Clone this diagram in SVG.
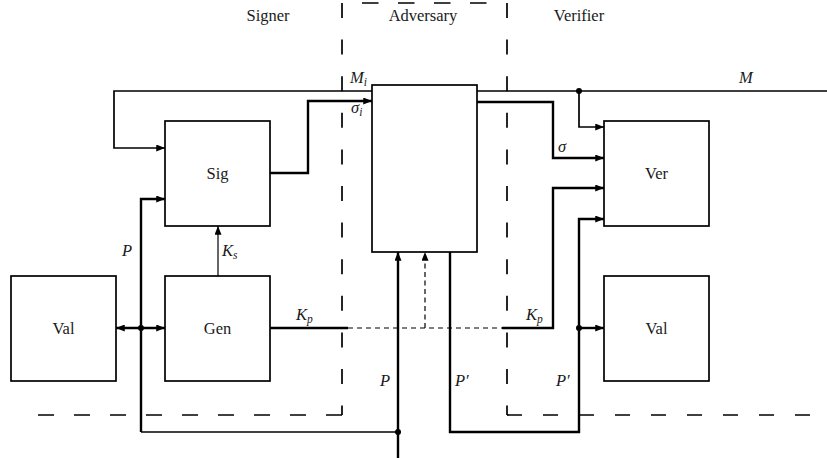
<svg xmlns="http://www.w3.org/2000/svg" width="827" height="458" viewBox="0 0 827 458">
<style>
.box{fill:#fff;stroke:#000;stroke-width:1.7}
.t{font-family:"Liberation Serif","DejaVu Serif",serif;font-size:16.5px;fill:#1a1a1a}
.m{font-family:"Liberation Serif","DejaVu Serif",serif;font-size:16.5px;font-style:italic;fill:#1a1a1a}
.sub{font-size:11.5px}
.w{fill:none;stroke:#000;stroke-width:1.7}
.k{fill:none;stroke:#000;stroke-width:2.4}
.thin{fill:none;stroke:#000;stroke-width:1.2}
.bd{fill:none;stroke:#000;stroke-width:1.7}
.dot{fill:#000}
</style>
<defs>
<marker id="ah" viewBox="0 0 10 8" refX="10" refY="4" markerWidth="9" markerHeight="7" markerUnits="userSpaceOnUse" orient="auto-start-reverse">
<path d="M0,0 L10,4 L0,8 Z" fill="#000"/>
</marker>
</defs>
<g id="boundaries">
<path class="bd" d="M342,415 H37" stroke-dasharray="16 20"/>
<path class="bd" d="M342,3 V415" stroke-dasharray="15 21.6"/>
<path class="bd" d="M362,3 H487" stroke-dasharray="16.5 19.5"/>
<path class="bd" d="M507,3 V415" stroke-dasharray="15 21.6"/>
<path class="bd" d="M507,415 H812" stroke-dasharray="15 21"/>
</g>
<g id="connectors">
<path class="w" d="M827,91 H114 V148 H165" marker-end="url(#ah)"/>
<path class="w" d="M579,91 V127 H604" marker-end="url(#ah)"/>
<path class="k" d="M270,173 H308 V101 H372" marker-end="url(#ah)"/>
<path class="k" d="M477,102 H553 V158 H604" marker-end="url(#ah)"/>
<path class="k" d="M270,328 H348"/>
<path class="thin" d="M348,328 H502" stroke-dasharray="5 4"/>
<path class="k" d="M502,328 H553 V188 H604" marker-end="url(#ah)"/>
<path class="k" d="M450,252 V432 H579 V219 H604" marker-end="url(#ah)"/>
<path class="k" d="M579,328 H604" marker-end="url(#ah)"/>
<path class="k" d="M398,458 V252" marker-end="url(#ah)"/>
<path class="w" d="M398,432 H141"/>
<path class="k" d="M141,432 V199 H165" marker-end="url(#ah)"/>
<path class="k" d="M116,328 H165" marker-start="url(#ah)" marker-end="url(#ah)"/>
<path class="thin" d="M218,276 V226" marker-end="url(#ah)"/>
<path class="thin" d="M425,328 V252" stroke-dasharray="5 3.5" marker-end="url(#ah)"/>
<circle class="dot" cx="579" cy="91" r="3"/>
<circle class="dot" cx="579" cy="328" r="3"/>
<circle class="dot" cx="398" cy="432" r="3"/>
<circle class="dot" cx="141" cy="328" r="3"/>
<text class="m" x="350" y="83">M<tspan class="sub" dy="3">i</tspan></text>
<text class="m" x="351" y="113">σ<tspan class="sub" dy="3">i</tspan></text>
<text class="m" x="739" y="83">M</text>
<text class="m" x="558" y="152">σ</text>
<text class="m" x="122" y="256">P</text>
<text class="m" x="222" y="256">K<tspan class="sub" dy="3">s</tspan></text>
<text class="m" x="296" y="320">K<tspan class="sub" dy="3">p</tspan></text>
<text class="m" x="526" y="320">K<tspan class="sub" dy="3">p</tspan></text>
<text class="m" x="380" y="386">P</text>
<text class="m" x="455" y="386">P′</text>
<text class="m" x="556" y="386">P′</text>
</g>
<g id="labels">
<text class="t" x="268" y="21" text-anchor="middle">Signer</text>
<text class="t" x="423" y="21" text-anchor="middle">Adversary</text>
<text class="t" x="579" y="21" text-anchor="middle">Verifier</text>
</g>
<g id="sig"><rect class="box" x="165" y="121" width="105" height="105"/><text class="t" x="217.5" y="179" text-anchor="middle">Sig</text></g>
<g id="gen"><rect class="box" x="165" y="276" width="105" height="105"/><text class="t" x="217.5" y="334" text-anchor="middle">Gen</text></g>
<g id="val-signer"><rect class="box" x="11" y="276" width="105" height="105"/><text class="t" x="63.5" y="334" text-anchor="middle">Val</text></g>
<g id="adversary"><rect class="box" x="372" y="85" width="105" height="167"/></g>
<g id="ver"><rect class="box" x="604" y="121" width="105" height="105"/><text class="t" x="656.5" y="179" text-anchor="middle">Ver</text></g>
<g id="val-verifier"><rect class="box" x="604" y="276" width="105" height="105"/><text class="t" x="656.5" y="334" text-anchor="middle">Val</text></g>
</svg>
